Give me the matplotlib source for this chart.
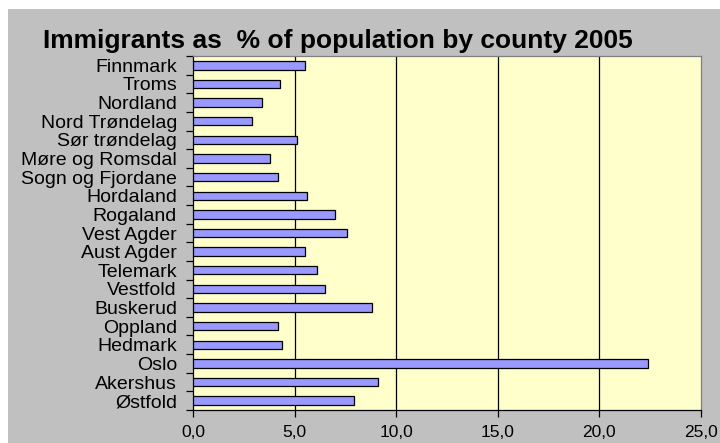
import matplotlib.pyplot as plt
from matplotlib.patches import Rectangle
import numpy as np

# counties, bottom to top as drawn
counties = ["Østfold", "Akershus", "Oslo", "Hedmark", "Oppland", "Buskerud",
            "Vestfold", "Telemark", "Aust Agder", "Vest Agder", "Rogaland",
            "Hordaland", "Sogn og Fjordane", "Møre og Romsdal", "Sør trøndelag",
            "Nord Trøndelag", "Nordland", "Troms", "Finnmark"]
percent = [7.9, 9.1, 22.4, 4.4, 4.2, 8.8,
           6.5, 6.1, 5.5, 7.6, 7.0,
           5.6, 4.2, 3.8, 5.1,
           2.9, 3.4, 4.3, 5.5]
x_ticks = [0, 5, 10, 15, 20, 25]
x_labels = ["0,0", "5,0", "10,0", "15,0", "20,0", "25,0"]

plt.rcParams['font.family'] = ['Liberation Sans', 'DejaVu Sans']

fig = plt.figure(figsize=(7.2, 4.43), dpi=100, facecolor="white")
# grey chart area (white strip top and left)
fig.patches.append(Rectangle((8 / 720, 0), 1 - 8 / 720, 1 - 9 / 443,
                             transform=fig.transFigure, facecolor="#c0c0c0",
                             edgecolor="none", zorder=-10))

ax = fig.add_axes([193 / 720, 1 - 410 / 443, (701 - 193) / 720, (410 - 56) / 443])
ax.set_facecolor("#ffffcc")

y = np.arange(len(counties))
ax.barh(y, percent, height=0.45, color="#9999ff", edgecolor="black",
        linewidth=0.9, zorder=3)

ax.set_xlim(0, 25)
ax.set_ylim(-0.5, len(counties) - 0.5)

# gridlines
for v in x_ticks[1:-1]:
    ax.axvline(v, color="black", linewidth=0.9, zorder=1)

ax.set_xticks(x_ticks)
ax.set_xticklabels(x_labels, fontsize=12.5)
ax.set_yticks(y)
ax.set_yticklabels(counties, fontsize=14)
ax.set_yticks(np.arange(len(counties) + 1) - 0.5, minor=True)
ax.tick_params(axis="y", which="major", length=0, pad=11.5)
ax.tick_params(axis="y", which="minor", length=5, width=0.9, direction="out")
ax.tick_params(axis="x", which="major", length=5, width=0.9, direction="out", pad=6)

for s in ["top", "right"]:
    ax.spines[s].set_color("#808080")
    ax.spines[s].set_linewidth(0.9)
ax.spines["left"].set_linewidth(0.9)
ax.spines["bottom"].set_linewidth(0.9)

fig.text(338 / 720, 1 - 41 / 443, "Immigrants as  % of population by county 2005",
         ha="center", va="center", fontsize=19, fontweight="bold")

plt.savefig("out.png", dpi=100, facecolor=fig.get_facecolor())
